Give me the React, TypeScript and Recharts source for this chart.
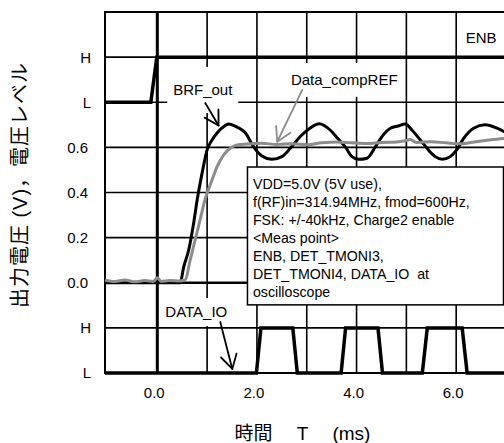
import React from "react";
import {
  LineChart, Line, XAxis, YAxis, CartesianGrid,
  ReferenceLine, ReferenceArea
} from "recharts";

const FONT = "'Liberation Sans', Arial, sans-serif";
const JP = "'Liberation Sans', 'Noto Sans CJK JP', sans-serif";
const GRAY = "#8c8c8c";

// time axis (ms) and level axis
const X_MIN = -1.05;
const X_MAX = 7.0;
const X_TICKS = [0, 1, 2, 3, 4, 5, 6, 7];
const Y_TICKS = [-0.4, -0.2, 0, 0.2, 0.4, 0.6, 0.8, 1.0, 1.2];
const Y_TICK_TEXT = ["L", "H", "0.0", "0.2", "0.4", "0.6", "L", "H", ""];

// ENB (L = 0.8, H = 1.0)
const enbT = [-1.05, -0.13, -0.01, 7.0];
const enbV = [0.8, 0.8, 1.0, 1.0];

// DATA_IO (L = -0.4, H = -0.2)
const dataIoT = [-1.05, 1.99, 2.08, 2.72, 2.81, 3.69, 3.78, 4.43, 4.52, 5.32, 5.42, 6.12, 6.22, 7.0];
const dataIoV = [-0.4, -0.4, -0.2, -0.2, -0.4, -0.4, -0.2, -0.2, -0.4, -0.4, -0.2, -0.2, -0.4, -0.4];

// BRF_out (V)
const brfT = [-1.05, 0.46, 0.53, 0.63, 0.73, 0.8, 0.9, 1.0, 1.1, 1.2, 1.3, 1.43, 1.6, 1.77, 1.93, 2.1, 2.3, 2.5, 2.67, 2.87, 3.07, 3.25, 3.47, 3.62, 3.77, 3.91, 4.04, 4.21, 4.38, 4.51, 4.68, 4.84, 4.98, 5.11, 5.28, 5.44, 5.58, 5.72, 5.88, 6.01, 6.15, 6.35, 6.58, 6.82, 7.0];
const brfV = [0, 0, 0.07, 0.145, 0.265, 0.367, 0.487, 0.589, 0.633, 0.664, 0.686, 0.704, 0.69, 0.664, 0.603, 0.562, 0.547, 0.559, 0.596, 0.648, 0.686, 0.705, 0.677, 0.64, 0.603, 0.559, 0.547, 0.552, 0.603, 0.648, 0.685, 0.695, 0.704, 0.677, 0.633, 0.589, 0.559, 0.547, 0.559, 0.589, 0.64, 0.685, 0.7, 0.685, 0.665];

// Data_compREF (V)
const refT = [-1.05, -0.85, -0.65, -0.45, -0.25, -0.08, 0, 0.08, 0.25, 0.45, 0.56, 0.66, 0.76, 0.86, 0.96, 1.1, 1.2, 1.33, 1.47, 1.6, 1.8, 2.1, 2.4, 2.7, 3.0, 3.3, 3.6, 3.9, 4.2, 4.5, 4.8, 4.95, 5.08, 5.2, 5.5, 5.8, 6.1, 6.4, 6.7, 7.0];
const refV = [0.012, 0.005, 0.012, 0.004, 0.01, 0.006, 0.022, 0.006, 0.01, 0.008, 0.012, 0.1, 0.19, 0.28, 0.37, 0.456, 0.515, 0.566, 0.597, 0.611, 0.615, 0.618, 0.613, 0.616, 0.612, 0.62, 0.624, 0.62, 0.617, 0.622, 0.624, 0.628, 0.635, 0.622, 0.625, 0.62, 0.616, 0.625, 0.634, 0.64];

const NOTE_LINES = [
  "VDD=5.0V (5V use),",
  "f(RF)in=314.94MHz, fmod=600Hz,",
  "FSK: +/-40kHz, Charge2 enable",
  "<Meas point>",
  "ENB, DET_TMONI3,",
  "DET_TMONI4, DATA_IO  at",
  "oscilloscope",
];

const toRows = (ts: number[], vs: number[]) => ts.map((t, i) => ({ t, v: vs[i] }));
const enbData = toRows(enbT, enbV);
const dataIoData = toRows(dataIoT, dataIoV);
const brfData = toRows(brfT, brfV);
const refData = toRows(refT, refV);

const labelBox = (text: string) => (p: any) => (
  <g>
    <rect x={p.x} y={p.y} width={p.width} height={p.height} fill="#fff" />
    <text x={p.x + p.width / 2} y={p.y + p.height / 2} dy={5.4} textAnchor="middle"
      fontSize={15} fontFamily={FONT} fill="#000">{text}</text>
  </g>
);

const noteBox = (p: any) => (
  <g>
    <rect x={p.x} y={p.y} width={p.width} height={p.height} fill="#fff" stroke="#000" strokeWidth={1.5} />
    <text fontSize={14.2} fontFamily={FONT} fill="#000" style={{ whiteSpace: "pre" }}>
      {NOTE_LINES.map((s, i) => (
        <tspan key={i} x={p.x + 5.5} y={p.y + 21.5 + i * 18.1}>{s}</tspan>
      ))}
    </text>
  </g>
);

const arrow = (color: string, width: number) => (p: any) => {
  const { x1, y1, x2, y2 } = p;
  const a = Math.atan2(y2 - y1, x2 - x1);
  const L = 16, w = Math.PI / 6;
  const ax = x2 - L * Math.cos(a - w), ay = y2 - L * Math.sin(a - w);
  const bx = x2 - L * Math.cos(a + w), by = y2 - L * Math.sin(a + w);
  return (
    <g fill="none" stroke={color} strokeWidth={width} strokeLinecap="round" strokeLinejoin="round">
      <line x1={x1} y1={y1} x2={x2} y2={y2} />
      <polyline points={`${ax},${ay} ${x2},${y2} ${bx},${by}`} />
    </g>
  );
};

const XTick = ({ x, y, payload }: any) => {
  const v = payload.value;
  const s = v % 2 === 0 && v < 7 ? v.toFixed(1) : "";
  return <text x={x - 3} y={y + 25} textAnchor="middle" fontSize={15} fontFamily={FONT} fill="#000">{s}</text>;
};

const YTick = ({ x, y, index }: any) => {
  const s = Y_TICK_TEXT[index] ?? "";
  const letter = s === "H" || s === "L";
  return <text x={x + (letter ? 3 : 0)} y={y} dy={5.4} textAnchor="end" fontSize={15} fontFamily={FONT} fill="#000">{s}</text>;
};

const YTitle = ({ viewBox }: any) => {
  const cx = viewBox.x + 20;
  const cy = viewBox.y + viewBox.height / 2 - 7.5;
  return (
    <text x={cx} y={cy} transform={`rotate(-90, ${cx}, ${cy})`} dy={7} textAnchor="middle"
      fontSize={20} letterSpacing={1} fontFamily={JP} fill="#000" style={{ whiteSpace: "pre" }}>
      出力電圧 (V)，電圧レベル
    </text>
  );
};

const XTitle = ({ viewBox }: any) => (
  <text x={viewBox.x + viewBox.width / 2 - 3} y={viewBox.y + 67} textAnchor="middle"
    fontSize={19} fontFamily={JP} fill="#000" style={{ whiteSpace: "pre" }}>
    時間　 T　 (ms)
  </text>
);

export default function App() {
  return (
    <div style={{ position: "absolute", left: 0, top: 0, width: 504, height: 443, overflow: "hidden", background: "#fff" }}>
      <LineChart width={520} height={443} margin={{ top: 12, right: 14, bottom: 0, left: 0 }}>
        <CartesianGrid stroke="#000" strokeWidth={1.6} />
        <XAxis dataKey="t" type="number" domain={[X_MIN, X_MAX]} ticks={X_TICKS} height={70}
          tick={<XTick />} tickLine={false} axisLine={false} tickSize={0} tickMargin={0}
          label={{ content: XTitle }} />
        <YAxis type="number" domain={[-0.4, 1.2]} ticks={Y_TICKS} width={105}
          tick={<YTick />} tickLine={false} axisLine={false} tickSize={0} tickMargin={17}
          label={{ content: YTitle }} />

        <ReferenceArea x1={X_MIN} x2={X_MAX} y1={-0.4} y2={1.2} fill="none" stroke="#000" strokeWidth={2} />
        <ReferenceLine x={0} stroke="#000" strokeWidth={3} />
        <ReferenceLine segment={[{ x: X_MIN, y: 0 }, { x: 1.81, y: 0 }]} stroke="#000" strokeWidth={2.5} />

        <Line data={enbData} dataKey="v" type="linear" stroke="#000" strokeWidth={3.5} dot={false} isAnimationActive={false} />
        <Line data={dataIoData} dataKey="v" type="linear" stroke="#000" strokeWidth={3.5} dot={false} isAnimationActive={false} />
        <Line data={brfData} dataKey="v" type="monotone" stroke="#000" strokeWidth={3} dot={false} isAnimationActive={false} />
        <Line data={refData} dataKey="v" type="monotone" stroke={GRAY} strokeWidth={3} dot={false} isAnimationActive={false} />

        <ReferenceArea x1={0.2} x2={1.625} y1={0.752} y2={0.956} shape={labelBox("BRF_out")} />
        <ReferenceArea x1={2.569} x2={4.937} y1={0.824} y2={0.974} shape={labelBox("Data_compREF")} />
        <ReferenceArea x1={0.06} x2={1.505} y1={-0.192} y2={-0.068} shape={labelBox("DATA_IO")} />
        <ReferenceArea x1={6.14} x2={6.86} y1={1.023} y2={1.147} shape={labelBox("ENB")} />
        <ReferenceArea x1={1.81} x2={6.95} y1={-0.098} y2={0.513} shape={noteBox} />

        <ReferenceLine segment={[{ x: 0.963, y: 0.797 }, { x: 1.23, y: 0.697 }]} shape={arrow("#000", 1.8)} />
        <ReferenceLine segment={[{ x: 2.91, y: 0.855 }, { x: 2.408, y: 0.625 }]} shape={arrow(GRAY, 1.8)} />
        <ReferenceLine segment={[{ x: 1.264, y: -0.174 }, { x: 1.505, y: -0.382 }]} shape={arrow("#000", 1.8)} />
      </LineChart>
    </div>
  );
}
